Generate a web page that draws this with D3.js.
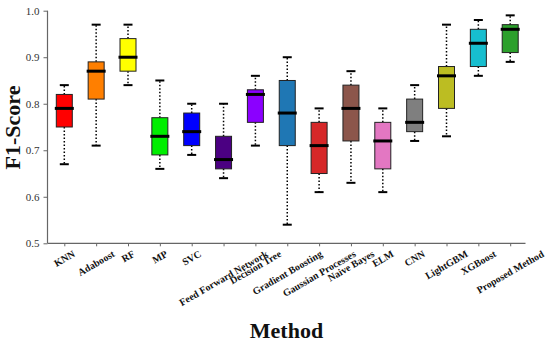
<!DOCTYPE html>
<html><head><meta charset="utf-8">
<script src="https://cdn.jsdelivr.net/npm/d3@7"></script>
<style>body{margin:0;background:#fff;} svg{display:block;} svg text{font-family:"Liberation Serif","Times New Roman",serif;}</style>
</head><body>
<svg id="chart" width="550" height="344"></svg>
<script>
const categories = ["KNN","Adaboost","RF","MP","SVC","Feed Forward Network","Decision Tree","Gradient Boosting","Gaussian Processes","Naive Bayes","ELM","CNN","LightGBM","XGBoost","Proposed Method"];
const whiskerLow = [0.67,0.71,0.84,0.66,0.69,0.64,0.71,0.54,0.61,0.63,0.61,0.72,0.73,0.86,0.89];
const q1         = [0.75,0.81,0.87,0.69,0.71,0.66,0.76,0.71,0.65,0.72,0.66,0.74,0.79,0.88,0.91];
const medians    = [0.79,0.87,0.90,0.73,0.74,0.68,0.82,0.78,0.71,0.79,0.72,0.76,0.86,0.93,0.96];
const q3         = [0.82,0.89,0.94,0.77,0.78,0.73,0.83,0.85,0.76,0.84,0.76,0.81,0.88,0.96,0.97];
const whiskerHigh= [0.84,0.97,0.97,0.85,0.80,0.80,0.86,0.90,0.79,0.87,0.79,0.84,0.97,0.98,0.99];
const yTicks = [0.5,0.6,0.7,0.8,0.9,1.0];
const colors = ["#ff0000","#ff7f00","#ffff00","#00ee00","#0000ff","#4b0082","#8b00ff","#1f77b4","#d62728","#8c564b","#e377c2","#7f7f7f","#bcbd22","#17becf","#2ca02c"];

const data = categories.map((c,i)=>({c, lo:whiskerLow[i], q1:q1[i], med:medians[i], q3:q3[i], hi:whiskerHigh[i], color:colors[i]}));

const svg = d3.select("#chart");
const mLeft = 47.5, mRight = 525.5, mTop = 10.7, mBottom = 243.3;
const x = d3.scalePoint().domain(categories).range([64.3, 510.2]);
const y = d3.scaleLinear().domain([0.5,1.0]).range([mBottom, mTop]);
const serif = "Liberation Serif, Times New Roman, serif";
const axisColor = "#666";

// Y axis
const yAxis = svg.append("g").attr("transform",`translate(${mLeft},0)`)
  .call(d3.axisLeft(y).tickValues(yTicks).tickFormat(d3.format(".1f")).tickSize(4).tickSizeOuter(0));
yAxis.attr("font-family",null);
yAxis.select(".domain").remove();
yAxis.selectAll(".tick line").attr("stroke",axisColor);
yAxis.selectAll(".tick text").style("font-family",serif).attr("font-size",11).attr("fill","#333").attr("x",-8);
svg.append("line").attr("x1",mLeft).attr("x2",mLeft).attr("y1",mTop).attr("y2",mBottom).attr("stroke",axisColor).attr("stroke-width",1.2);

// X axis
const xAxis = svg.append("g").attr("transform",`translate(0,${mBottom})`)
  .call(d3.axisBottom(x).tickSize(3).tickSizeOuter(0));
xAxis.select(".domain").remove();
xAxis.selectAll(".tick line").attr("stroke",axisColor);
xAxis.selectAll(".tick text").remove();
svg.append("line").attr("x1",mLeft).attr("x2",mRight).attr("y1",mBottom).attr("y2",mBottom).attr("stroke",axisColor).attr("stroke-width",1.2);

// X labels: rotated -30, bbox centered at tick, top aligned
const labelTop = 248.5;
const ang = 30*Math.PI/180;
const lg = svg.append("g");
categories.forEach(c=>{
  const t = lg.append("text").text(c).style("font-family",serif).attr("font-weight","bold").attr("font-size",10)
    .attr("text-anchor","middle").attr("dominant-baseline","central").attr("fill","#111");
  const w = t.node().getComputedTextLength();
  const h = 10;
  const H = w*Math.sin(ang) + h*Math.cos(ang);
  t.attr("transform",`translate(${x(c)},${labelTop + H/2}) rotate(-30)`);
});

// Boxes
const bw = 16, capW = 9;
const g = svg.append("g").selectAll("g").data(data).join("g");
g.append("line").attr("x1",d=>x(d.c)).attr("x2",d=>x(d.c)).attr("y1",d=>y(d.q3)).attr("y2",d=>y(d.hi))
  .attr("stroke","#000").attr("stroke-width",1.5).attr("stroke-dasharray","1.5,2");
g.append("line").attr("x1",d=>x(d.c)).attr("x2",d=>x(d.c)).attr("y1",d=>y(d.q1)).attr("y2",d=>y(d.lo))
  .attr("stroke","#000").attr("stroke-width",1.5).attr("stroke-dasharray","1.5,2");
g.append("line").attr("x1",d=>x(d.c)-capW/2).attr("x2",d=>x(d.c)+capW/2).attr("y1",d=>y(d.hi)).attr("y2",d=>y(d.hi))
  .attr("stroke","#000").attr("stroke-width",2);
g.append("line").attr("x1",d=>x(d.c)-capW/2).attr("x2",d=>x(d.c)+capW/2).attr("y1",d=>y(d.lo)).attr("y2",d=>y(d.lo))
  .attr("stroke","#000").attr("stroke-width",2);
g.append("rect").attr("x",d=>x(d.c)-bw/2).attr("width",bw).attr("y",d=>y(d.q3)).attr("height",d=>y(d.q1)-y(d.q3))
  .attr("fill",d=>d.color).attr("stroke","#222").attr("stroke-width",1);
g.append("line").attr("x1",d=>x(d.c)-bw/2-1.5).attr("x2",d=>x(d.c)+bw/2+1.5).attr("y1",d=>y(d.med)).attr("y2",d=>y(d.med))
  .attr("stroke","#000").attr("stroke-width",3);

// Titles
svg.append("text").text("Method").attr("x",(mLeft+mRight)/2).attr("y",338).attr("text-anchor","middle")
  .style("font-family",serif).attr("font-weight","bold").attr("font-size",22).attr("fill","#111");
svg.append("text").text("F1-Score").attr("transform",`translate(20,127.5) rotate(-90)`).attr("text-anchor","middle")
  .style("font-family",serif).attr("font-weight","bold").attr("font-size",22).attr("fill","#111");
</script>
</body></html>
